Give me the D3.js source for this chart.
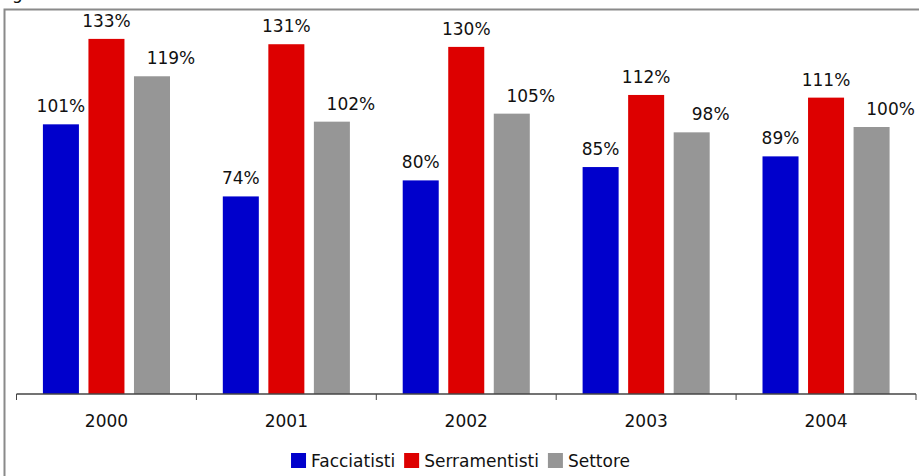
<!DOCTYPE html>
<html>
<head>
<meta charset="utf-8">
<script src="https://cdn.jsdelivr.net/npm/d3@7/dist/d3.min.js"></script>
<style>
  html, body { margin: 0; padding: 0; background: #fff; }
  svg { display: block; font-family: "DejaVu Sans", Verdana, sans-serif; }
</style>
</head>
<body>
<svg id="chart" width="919" height="476"></svg>
<script>
// Anni e quote percentuali per comparto
const years = ["2000", "2001", "2002", "2003", "2004"];
const seriesNames = ["Facciatisti", "Serramentisti", "Settore"];
const facciatisti = [101, 74, 80, 85, 89];
const serramentisti = [133, 131, 130, 112, 111];
const settore = [119, 102, 105, 98, 100];
const seriesColors = ["#0000cc", "#dd0000", "#969696"];

const seriesValues = [facciatisti, serramentisti, settore];
const W = 919, H = 476;
const svg = d3.select("#chart");

// Cornice del grafico (prosegue oltre i bordi destro e inferiore)
svg.append("rect")
  .attr("x", 4.5).attr("y", 9.5)
  .attr("width", W + 20).attr("height", H + 20)
  .attr("fill", "none").attr("stroke", "#8a8a8a").attr("stroke-width", 2);

// Titolo tagliato in alto
svg.append("text")
  .attr("x", 12).attr("y", -1.5)
  .attr("font-size", 17).attr("fill", "#111")
  .text("g");

const plotLeft = 16.5, plotRight = 916, baseY = 394;

const x0 = d3.scaleBand().domain(years).range([plotLeft, plotRight]).padding(0);
const x1 = d3.scaleBand().domain(seriesNames)
  .range([0, x0.bandwidth()])
  .paddingInner(0.209).paddingOuter(0.58);
const y = d3.scaleLinear().domain([0, 140]).range([baseY, baseY - 140 * 2.67]);

// Scostamento orizzontale delle etichette per serie
const labelShift = { "Facciatisti": 0, "Serramentisti": 0, "Settore": 19 };

const rows = [];
years.forEach((yr, i) => {
  seriesNames.forEach((s, j) => {
    rows.push({ year: yr, series: s, value: seriesValues[j][i], color: seriesColors[j] });
  });
});

svg.append("g").selectAll("rect")
  .data(rows).join("rect")
  .attr("x", d => x0(d.year) + x1(d.series))
  .attr("y", d => y(d.value))
  .attr("width", x1.bandwidth())
  .attr("height", d => y(0) - y(d.value))
  .attr("fill", d => d.color);

svg.append("g").selectAll("text")
  .data(rows).join("text")
  .attr("x", d => x0(d.year) + x1(d.series) + x1.bandwidth() / 2 + labelShift[d.series])
  .attr("y", d => y(d.value) - 12)
  .attr("text-anchor", "middle")
  .attr("font-size", 17).attr("fill", "#111")
  .text(d => d.value + "%");

// Asse delle categorie con tacche tra gli anni
const axis = d3.axisBottom(x0).tickSize(0).tickPadding(0);
const gAxis = svg.append("g").attr("transform", `translate(0,${baseY})`);
gAxis.append("line")
  .attr("x1", plotLeft).attr("x2", plotRight)
  .attr("y1", 0).attr("y2", 0)
  .attr("stroke", "#444").attr("stroke-width", 1.5);
const boundaries = years.map(yr => x0(yr)).concat([plotRight]);
gAxis.selectAll("line.tick-mark")
  .data(boundaries).join("line")
  .attr("class", "tick-mark")
  .attr("x1", d => d).attr("x2", d => d)
  .attr("y1", 0).attr("y2", 6)
  .attr("stroke", "#444").attr("stroke-width", 1);
gAxis.selectAll("text.year")
  .data(years).join("text")
  .attr("class", "year")
  .attr("x", d => x0(d) + x0.bandwidth() / 2)
  .attr("y", 33)
  .attr("text-anchor", "middle")
  .attr("font-size", 17).attr("fill", "#111")
  .text(d => d);

// Legenda centrata in basso
const legend = svg.append("g");
const sw = 15, gapText = 5, gapItem = 9;
let cursor = 0;
const items = seriesNames.map((s, j) => {
  const g = legend.append("g");
  g.append("rect").attr("x", 0).attr("y", -sw).attr("width", sw).attr("height", sw).attr("fill", seriesColors[j]);
  const t = g.append("text").attr("x", sw + gapText).attr("y", -1)
    .attr("font-size", 17).attr("fill", "#111").text(s);
  const w = sw + gapText + t.node().getComputedTextLength();
  g.attr("transform", `translate(${cursor},0)`);
  cursor += w + gapItem;
  return g;
});
const totalW = cursor - gapItem;
legend.attr("transform", `translate(${460.5 - totalW / 2},468)`);
</script>
</body>
</html>
